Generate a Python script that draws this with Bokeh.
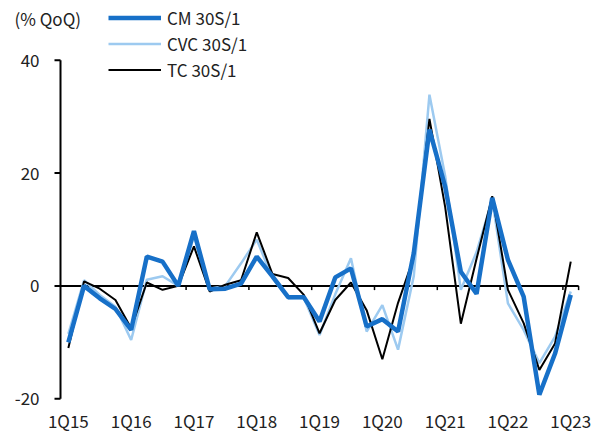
from bokeh.plotting import figure
from bokeh.models import Range1d, Legend, LegendItem, ColumnDataSource
from bokeh.core.properties import value
from bokeh.embed import file_html
from bokeh.resources import INLINE

quarters = [f"{q}Q{y}" for y in range(15, 24) for q in range(1, 5)][:33]
cm = [-10, 0, -2.2, -4.1, -7.8, 5.2, 4.3, 0, 9.7, -0.6, -0.5, 0.4, 5.2, 1.7, -2.0, -2.0,
      -6.3, 1.5, 3.1, -7.2, -5.9, -8.1, 5.8, 27.7, 17.6, 2.5, -1.4, 15.6, 4.6, -1.9, -19.3, -12.0, -1.6]
cvc = [-8.5, 1.0, -1.6, -3.7, -9.6, 1.1, 1.7, 0, 8.8, -0.5, 0, 4.0, 8.2, 1.4, -2.2, -2.1,
       -8.7, -1.5, 4.9, -8.1, -3.4, -11.3, 1.7, 33.9, 19.5, -0.7, 6.0, 15.3, -3.1, -7.8, -13.7, -9.0, -1.0]
tc = [-11, 0.8, -0.5, -2.5, -7.5, 0.6, -0.7, 0, 7.0, -1.0, 0.2, 1.0, 9.5, 2.1, 1.4, -1.6,
      -8.4, -2.5, 0.6, -4.3, -13.0, -3.0, 5.0, 29.6, 14.0, -6.7, 4.8, 15.9, -0.7, -6.6, -14.9, -10.2, 4.3]
y_ticks = [-20, 0, 20, 40]
y_tick_labels = ["-20", "0", "20", "40"]
unit_label = "(% QoQ)"
series_names = ["CM 30S/1", "CVC 30S/1", "TC 30S/1"]

FONT = "Noto Sans CJK KR"
FS = "17px"
TXT = "#222222"

n = len(quarters)
idx = list(range(n))
src = ColumnDataSource(dict(x=idx, cm=cm, cvc=cvc, tc=tc))

PXX = 15.7   # px per quarter
PXY = 5.64   # px per % point
FW = 596
FH = 432
x_left = -0.5 - 60 / PXX
y_top = 50.6
p = figure(output_backend="svg", toolbar_location=None,
           x_range=Range1d(x_left, x_left + FW / PXX), y_range=Range1d(y_top - FH / PXY, y_top),
           frame_width=FW, frame_height=FH, min_border_left=0, min_border_top=0,
           min_border_right=0, min_border_bottom=0, x_axis_type=None, y_axis_type=None)
p.outline_line_color = None
p.grid.visible = False
p.background_fill_color = "white"

ax_x = -0.5
y_min = min(y_ticks)

# category labels under the plot
lab_idx = idx[::4]
p.text(x=lab_idx, y=[y_min] * len(lab_idx), text=[quarters[i] for i in lab_idx], y_offset=21.5,
       text_align="center", text_baseline="middle", text_font=value(FONT),
       text_font_size=value(FS), text_color=TXT)

# value axis
p.segment(x0=[ax_x], x1=[ax_x], y0=[y_min], y1=[max(y_ticks)], line_color="black", line_width=2)
p.segment(x0=[ax_x] * len(y_ticks), x1=[ax_x - 6 / PXX] * len(y_ticks), y0=y_ticks, y1=y_ticks,
          line_color="black", line_width=2)
p.text(x=[ax_x] * len(y_ticks), y=y_ticks, text=y_tick_labels, x_offset=-21,
       text_align="right", text_baseline="middle", text_font=value(FONT),
       text_font_size=value(FS), text_color=TXT)

# zero line with category-group ticks
p.segment(x0=[-0.5], x1=[n - 0.5], y0=[0], y1=[0], line_color="black", line_width=2)
tick_x = [i - 0.5 for i in idx[4::4]] + [n - 0.5]
p.segment(x0=tick_x, x1=tick_x, y0=[0] * len(tick_x), y1=[-0.75] * len(tick_x),
          line_color="black", line_width=1.5)

r_cvc = p.line("x", "cvc", source=src, line_color="#9DCAF0", line_width=2.5)
r_tc = p.line("x", "tc", source=src, line_color="black", line_width=2)
r_cm = p.line("x", "cm", source=src, line_color="#1770C8", line_width=4.5)

legend = Legend(items=[LegendItem(label=series_names[0], renderers=[r_cm]),
                       LegendItem(label=series_names[1], renderers=[r_cvc]),
                       LegendItem(label=series_names[2], renderers=[r_tc])],
                location=(108, FH - 77 - 5), orientation="vertical",
                border_line_color=None, background_fill_alpha=0,
                padding=0, margin=0, spacing=1, glyph_width=53, glyph_height=25,
                label_height=25, label_standoff=6,
                label_text_font=FONT, label_text_font_size=FS, label_text_color=TXT)
p.add_layout(legend, "center")

p.text(x=[ax_x - 46 / PXX], y=[47.4], text=[unit_label], text_align="left", text_baseline="middle",
       text_font=value(FONT), text_font_size=value(FS), text_color=TXT)

open("out.html", "w").write(file_html(p, INLINE))
